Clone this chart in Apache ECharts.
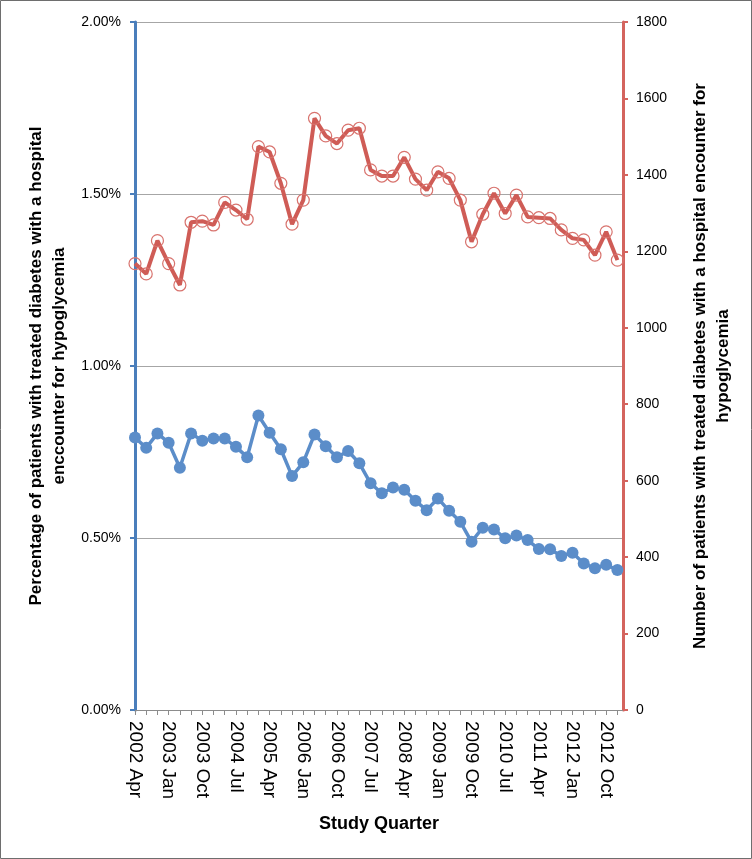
<!DOCTYPE html>
<html>
<head>
<meta charset="utf-8">
<script src="https://cdn.jsdelivr.net/npm/echarts@6/dist/echarts.min.js"></script>
<style>
html,body{margin:0;padding:0;background:#fff;}
#chart{width:752px;height:859px;}
</style>
</head>
<body>
<div id="chart"></div>
<script>
// Quarters (44 points, 2002 Apr .. 2013 Jan); labelled every 3rd
const quarters = [
  '2002 Apr','2002 Jul','2002 Oct','2003 Jan','2003 Apr','2003 Jul','2003 Oct','2004 Jan','2004 Apr','2004 Jul',
  '2004 Oct','2005 Jan','2005 Apr','2005 Jul','2005 Oct','2006 Jan','2006 Apr','2006 Jul','2006 Oct','2007 Jan',
  '2007 Apr','2007 Jul','2007 Oct','2008 Jan','2008 Apr','2008 Jul','2008 Oct','2009 Jan','2009 Apr','2009 Jul',
  '2009 Oct','2010 Jan','2010 Apr','2010 Jul','2010 Oct','2011 Jan','2011 Apr','2011 Jul','2011 Oct','2012 Jan',
  '2012 Apr','2012 Jul','2012 Oct','2013 Jan'
];
// Percentage of patients (left axis, %)
const percentValues = [
  0.792,0.762,0.804,0.777,0.704,0.804,0.783,0.789,0.789,0.765,
  0.735,0.856,0.806,0.758,0.680,0.720,0.801,0.767,0.735,0.753,
  0.717,0.659,0.630,0.647,0.640,0.608,0.581,0.615,0.579,0.547,
  0.489,0.530,0.525,0.499,0.507,0.494,0.468,0.467,0.448,0.457,
  0.426,0.412,0.422,0.407
];
// Number of patients (right axis)
const countValues = [
  1168,1141,1228,1168,1112,1276,1279,1269,1328,1308,
  1284,1474,1460,1378,1271,1334,1548,1502,1482,1517,
  1522,1413,1397,1397,1446,1389,1360,1408,1391,1334,
  1225,1297,1352,1299,1347,1290,1288,1286,1256,1234,
  1230,1190,1251,1177
];
const leftTicks = [0, 0.5, 1.0, 1.5, 2.0];
const rightTicks = [0, 200, 400, 600, 800, 1000, 1200, 1400, 1600, 1800];

const chart = echarts.init(document.getElementById('chart'), null, {renderer: 'canvas'});
const FONT = '"Liberation Sans", Arial, sans-serif';
const blue = '#5b8dc9';
const red = '#cf5c56';

const option = {
  animation: false,
  backgroundColor: '#fff',
  textStyle: {fontFamily: FONT},
  grid: {left: 135, right: 129, top: 22, bottom: 149, containLabel: false},
  xAxis: {
    type: 'value',
    min: 0,
    max: 43.5,
    interval: 1,
    name: 'Study Quarter',
    nameLocation: 'middle',
    nameGap: 105,
    nameTextStyle: {fontFamily: FONT, fontWeight: 'bold', fontSize: 18, color: '#000'},
    axisLine: {show: true, lineStyle: {color: '#8c8c8c', width: 1}},
    axisTick: {show: true, length: 5, lineStyle: {color: '#8c8c8c'}},
    splitLine: {show: false},
    axisLabel: {
      rotate: -90,
      margin: 11,
      fontSize: 19,
      color: '#000',
      fontFamily: FONT,
      showMaxLabel: false,
      formatter: function (v) {
        if (Math.abs(v - Math.round(v)) > 1e-6) return '';
        const i = Math.round(v);
        return (i % 3 === 0 && quarters[i]) ? quarters[i] : '';
      }
    }
  },
  yAxis: [
    {
      type: 'value',
      position: 'left',
      min: leftTicks[0],
      max: leftTicks[leftTicks.length - 1],
      interval: 0.5,
      name: 'Percentage of patients with treated diabetes with a hospital\nenccounter for hypoglycemia',
      nameLocation: 'middle',
      nameRotate: 90,
      nameGap: 60,
      nameTextStyle: {fontFamily: FONT, fontWeight: 'bold', fontSize: 17, lineHeight: 23, color: '#000', align: 'center'},
      axisLine: {show: true, lineStyle: {color: '#4a7ebb', width: 3}},
      axisTick: {show: true, length: 5, lineStyle: {color: '#4a7ebb', width: 2}},
      splitLine: {show: true, lineStyle: {color: '#a6a6a6', width: 1}},
      axisLabel: {
        fontSize: 14, color: '#000', fontFamily: FONT, margin: 14,
        formatter: function (v) { return v.toFixed(2) + '%'; }
      }
    },
    {
      type: 'value',
      position: 'right',
      min: rightTicks[0],
      max: rightTicks[rightTicks.length - 1],
      interval: 200,
      name: 'Number of patients with treated diabetes with a hospital encounter for\nhypoglycemia',
      nameLocation: 'middle',
      nameRotate: 90,
      nameGap: 66,
      nameTextStyle: {fontFamily: FONT, fontWeight: 'bold', fontSize: 17, lineHeight: 23, color: '#000', align: 'center'},
      axisLine: {show: true, lineStyle: {color: '#d4645e', width: 3}},
      axisTick: {show: true, length: 5, lineStyle: {color: '#d4645e', width: 2}},
      splitLine: {show: false},
      axisLabel: {
        fontSize: 14, color: '#000', fontFamily: FONT, margin: 13,
        formatter: function (v) { return String(v); }
      }
    }
  ],
  series: [
    {
      name: 'Number',
      type: 'line',
      yAxisIndex: 1,
      data: countValues.map((v, i) => [i, v]),
      symbol: 'circle',
      symbolSize: 12,
      lineStyle: {color: red, width: 4},
      itemStyle: {color: 'rgba(255,255,255,0)', borderColor: '#d8736e', borderWidth: 1.2},
      z: 3
    },
    {
      name: 'Percentage',
      type: 'line',
      yAxisIndex: 0,
      data: percentValues.map((v, i) => [i, v]),
      symbol: 'circle',
      symbolSize: 12,
      lineStyle: {color: blue, width: 3.5},
      itemStyle: {color: blue, borderWidth: 0},
      z: 4
    }
  ],
  graphic: [
    {
      type: 'rect',
      shape: {x: 0.5, y: 0.5, width: 751, height: 858},
      style: {fill: 'none', stroke: '#6e6e6e', lineWidth: 1},
      silent: true,
      z: 100
    }
  ]
};
chart.setOption(option);
</script>
</body>
</html>
